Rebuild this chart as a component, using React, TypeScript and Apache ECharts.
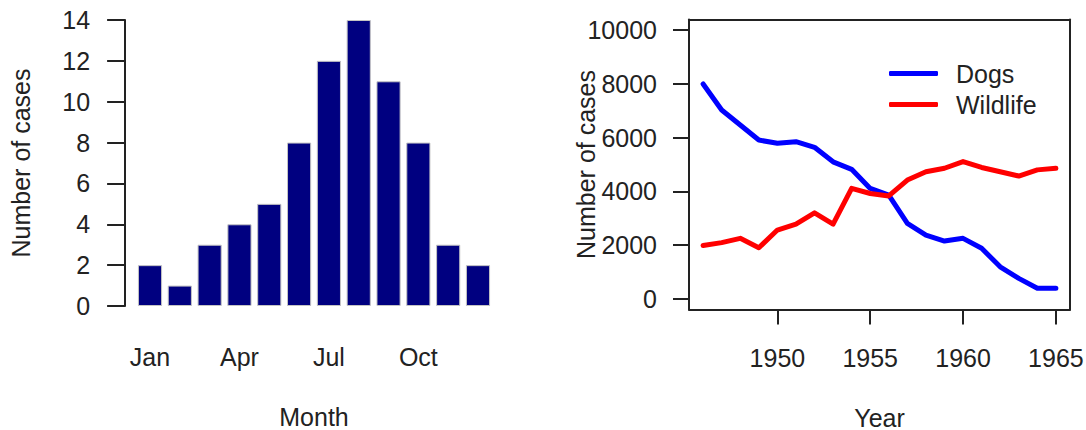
import React, { useEffect, useRef } from "react";
import * as echarts from "echarts";

const months = ["Jan", "Feb", "Mar", "Apr", "May", "Jun", "Jul", "Aug", "Sep", "Oct", "Nov", "Dec"];
const monthCases = [2, 1, 3, 4, 5, 8, 12, 14, 11, 8, 3, 2];

const years = [1946, 1947, 1948, 1949, 1950, 1951, 1952, 1953, 1954, 1955, 1956, 1957, 1958, 1959, 1960, 1961, 1962, 1963, 1964, 1965];
const dogs = [8000, 7030, 6470, 5910, 5790, 5850, 5640, 5100, 4820, 4110, 3860, 2810, 2370, 2150, 2250, 1880, 1190, 760, 390, 390];
const wildlife = [1980, 2090, 2250, 1900, 2560, 2780, 3200, 2780, 4110, 3920, 3830, 4420, 4730, 4860, 5110, 4890, 4730, 4570, 4800, 4860];

const yearTicks = [1950, 1955, 1960, 1965];
const caseTicks = [0, 2000, 4000, 6000, 8000, 10000];

const FONT = "'Liberation Sans', Arial, sans-serif";
const TXT = "#222";
const FS = 25;
const AX = { color: "#222", width: 2 };
const plain = (v: number) => String(v);

export default function App() {
  const ref = useRef<HTMLDivElement>(null);
  useEffect(() => {
    if (!ref.current) return;
    const chart = echarts.init(ref.current, undefined, { renderer: "svg" });
    const lbl = { fontSize: FS, color: TXT, fontFamily: FONT };
    const nameLbl = { fontSize: FS, color: TXT, fontFamily: FONT, lineHeight: 20 };
    const option: any = {
      animation: false,
      backgroundColor: "#fff",
      textStyle: { fontFamily: FONT, color: TXT },
      legend: {
        data: ["Dogs", "Wildlife"],
        orient: "vertical",
        left: 889,
        top: 61,
        padding: 0,
        itemWidth: 49,
        itemHeight: 5,
        itemGap: 6,
        icon: "roundRect",
        textStyle: { fontSize: FS, color: TXT, fontFamily: FONT, lineHeight: 25, padding: [0, 0, 0, 13] },
      },
      grid: [
        { left: 135.1, right: 593.1, top: 20, bottom: 124, containLabel: false, outerBoundsMode: "none" },
        { left: 689, right: 16, top: 19.5, bottom: 120.5, containLabel: false, outerBoundsMode: "none" },
      ],
      xAxis: [
        {
          gridIndex: 0,
          type: "category",
          data: months,
          axisLine: { show: false },
          axisTick: { show: false },
          axisLabel: { interval: 2, ...lbl, margin: 38 },
          name: "Month",
          nameLocation: "middle",
          nameGap: 101,
          nameMoveOverlap: false,
          nameTextStyle: nameLbl,
        },
        {
          gridIndex: 1,
          type: "value",
          min: 1945.24,
          max: 1965.76,
          splitLine: { show: false },
          axisLine: { show: true, onZero: false, lineStyle: AX },
          axisTick: { show: true, length: 15, customValues: yearTicks, lineStyle: AX },
          axisLabel: { customValues: yearTicks, formatter: plain, ...lbl, margin: 36 },
          name: "Year",
          nameLocation: "middle",
          nameGap: 98,
          nameMoveOverlap: false,
          nameTextStyle: nameLbl,
        },
        {
          gridIndex: 1,
          type: "value",
          position: "top",
          min: 1945.24,
          max: 1965.76,
          splitLine: { show: false },
          axisLine: { show: true, onZero: false, lineStyle: AX },
          axisTick: { show: false },
          axisLabel: { show: false },
        },
      ],
      yAxis: [
        {
          gridIndex: 0,
          type: "value",
          min: 0,
          max: 14,
          interval: 2,
          offset: 10,
          splitLine: { show: false },
          axisLine: { show: true, lineStyle: AX },
          axisTick: { show: true, length: 18, lineStyle: AX },
          axisLabel: { ...lbl, margin: 35 },
          name: "Number of cases",
          nameLocation: "middle",
          nameGap: 92,
          nameMoveOverlap: false,
          nameTextStyle: lbl,
        },
        {
          gridIndex: 1,
          type: "value",
          min: -400,
          max: 10400,
          splitLine: { show: false },
          axisLine: { show: true, onZero: false, lineStyle: AX },
          axisTick: { show: true, length: 16, customValues: caseTicks, lineStyle: AX },
          axisLabel: { customValues: caseTicks, formatter: plain, ...lbl, margin: 32 },
          name: "Number of cases",
          nameLocation: "middle",
          nameGap: 91,
          nameMoveOverlap: false,
          nameTextStyle: lbl,
        },
        {
          gridIndex: 1,
          type: "value",
          position: "right",
          min: -400,
          max: 10400,
          splitLine: { show: false },
          axisLine: { show: true, onZero: false, lineStyle: AX },
          axisTick: { show: false },
          axisLabel: { show: false },
        },
      ],
      series: [
        {
          type: "bar",
          xAxisIndex: 0,
          yAxisIndex: 0,
          data: monthCases,
          barCategoryGap: "19%",
          itemStyle: { color: "#000080", borderColor: "#c4c4c4", borderWidth: 1 },
        },
        {
          name: "Dogs",
          type: "line",
          xAxisIndex: 1,
          yAxisIndex: 1,
          data: years.map((y, i) => [y, dogs[i]]),
          symbol: "none",
          color: "#0000ff",
          lineStyle: { color: "#0000ff", width: 5, cap: "round", join: "round" },
        },
        {
          name: "Wildlife",
          type: "line",
          xAxisIndex: 1,
          yAxisIndex: 1,
          data: years.map((y, i) => [y, wildlife[i]]),
          symbol: "none",
          color: "#ff0000",
          lineStyle: { color: "#ff0000", width: 5, cap: "round", join: "round" },
        },
      ],
    };
    chart.setOption(option);
    return () => chart.dispose();
  }, []);
  return <div ref={ref} style={{ position: "fixed", left: 0, top: 0, width: 1086, height: 430 }} />;
}
